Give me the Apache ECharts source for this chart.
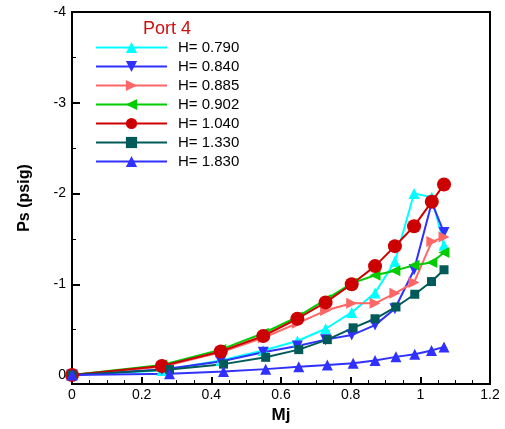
<!DOCTYPE html>
<html>
<head>
<meta charset="utf-8">
<script src="https://cdn.jsdelivr.net/npm/echarts@6/dist/echarts.min.js"></script>
<style>
html,body{margin:0;padding:0;background:#fff;}
#chart{width:505px;height:429px;}
</style>
</head>
<body>
<div id="chart"></div>
<script>
// Mach number values (x) for each run
const mjA = [0, 0.258, 0.427, 0.549, 0.647, 0.728, 0.803, 0.870, 0.927, 0.982, 1.033, 1.068];
const mjB = [0, 0.280, 0.435, 0.556, 0.651, 0.733, 0.807, 0.870, 0.930, 0.984, 1.032, 1.068];

// Ps (psig) values per H
const h0790 = [0, -0.05, -0.16, -0.27, -0.375, -0.51, -0.69, -0.905, -1.25, -2.00, -1.96, -1.43];
const h0840 = [0, -0.06, -0.15, -0.25, -0.32, -0.39, -0.44, -0.55, -0.73, -1.16, -1.90, -1.57];
const h0885 = [0, -0.09, -0.25, -0.41, -0.57, -0.71, -0.79, -0.79, -0.90, -1.02, -1.47, -1.52];
const h0902 = [0, -0.11, -0.28, -0.46, -0.64, -0.83, -1.01, -1.10, -1.15, -1.21, -1.24, -1.35];
const h1040 = [0, -0.10, -0.26, -0.43, -0.62, -0.80, -1.00, -1.20, -1.42, -1.64, -1.91, -2.10];
const h1330 = [0, -0.06, -0.12, -0.195, -0.28, -0.39, -0.52, -0.62, -0.75, -0.89, -1.03, -1.16];
const h1830 = [0, -0.015, -0.04, -0.065, -0.09, -0.11, -0.13, -0.16, -0.20, -0.23, -0.27, -0.31];

const legendNames = ['H= 0.790', 'H= 0.840', 'H= 0.885', 'H= 0.902', 'H= 1.040', 'H= 1.330', 'H= 1.830'];
const legendTitle = 'Port 4';
const xTitle = 'Mj';
const yTitle = 'Ps (psig)';

const pair = (xs, ys) => xs.map((x, i) => [x, ys[i]]);

const UP = 'triangle';
const DOWN = 'path://M0,0 L10,0 L5,10 Z';
const RIGHT = 'path://M0,0 L10,5 L0,10 Z';
const LEFT = 'path://M10,0 L10,10 L0,5 Z';

const specs = [
  {name: legendNames[0], xs: mjA, ys: h0790, color: '#00FFFF', symbol: UP, size: 11},
  {name: legendNames[1], xs: mjA, ys: h0840, color: '#3030FF', symbol: DOWN, size: 11},
  {name: legendNames[2], xs: mjA, ys: h0885, color: '#FF6666', symbol: RIGHT, size: 11},
  {name: legendNames[3], xs: mjA, ys: h0902, color: '#00CC00', symbol: LEFT, size: 11},
  {name: legendNames[4], xs: mjA, ys: h1040, color: '#CC0000', symbol: 'circle', size: 14},
  {name: legendNames[5], xs: mjB, ys: h1330, color: '#005A5A', symbol: 'rect', size: 9},
  {name: legendNames[6], xs: mjB, ys: h1830, color: '#3030FF', symbol: UP, size: 11}
];

const chart = echarts.init(document.getElementById('chart'));
const FONT = '"Liberation Sans", Arial, sans-serif';

chart.setOption({
  animation: false,
  backgroundColor: '#fff',
  title: {
    text: legendTitle,
    left: 143, top: 20, padding: 0,
    textStyle: {color: '#CC1111', fontSize: 18, fontWeight: 'normal', fontFamily: FONT}
  },
  legend: {
    orient: 'vertical',
    left: 95, top: 40, padding: 0,
    itemWidth: 71, itemHeight: 14, itemGap: 4,
    data: legendNames,
    textStyle: {fontSize: 15, color: '#000', fontFamily: FONT, padding: [0, 0, 0, 6]}
  },
  grid: {
    left: 72, right: 15, top: 12, bottom: 37,
    show: true, borderColor: '#000', borderWidth: 2, backgroundColor: 'transparent'
  },
  xAxis: {
    type: 'value', min: 0, max: 1.2, interval: 0.2,
    name: xTitle, nameLocation: 'middle', nameGap: 14,
    nameTextStyle: {fontSize: 17, fontWeight: 'bold', color: '#000', fontFamily: FONT},
    axisLine: {show: true, onZero: false, lineStyle: {color: '#000', width: 2}},
    axisTick: {show: true, inside: true, length: 7, lineStyle: {color: '#000', width: 2}},
    minorTick: {show: true, splitNumber: 4, length: 4, lineStyle: {color: '#000', width: 1}},
    axisLabel: {fontSize: 14, color: '#000', margin: 4, fontFamily: FONT},
    splitLine: {show: false}
  },
  yAxis: {
    type: 'value', min: -4, max: 0.1, interval: 1, inverse: true,
    name: yTitle, nameLocation: 'middle', nameGap: 39, nameRotate: 90,
    nameTextStyle: {fontSize: 16, fontWeight: 'bold', color: '#000', fontFamily: FONT},
    axisLine: {show: true, onZero: false, lineStyle: {color: '#000', width: 2}},
    axisTick: {show: true, inside: true, length: 8, lineStyle: {color: '#000', width: 2}},
    minorTick: {show: true, splitNumber: 2, length: 4, lineStyle: {color: '#000', width: 1}},
    axisLabel: {fontSize: 14, color: '#000', margin: 6, fontFamily: FONT, showMaxLabel: false},
    splitLine: {show: false}
  },
  series: specs.map(s => ({
    name: s.name,
    type: 'line',
    data: pair(s.xs, s.ys),
    symbol: s.symbol,
    symbolSize: s.size,
    showAllSymbol: true,
    lineStyle: {color: s.color, width: 2},
    itemStyle: {color: s.color, borderWidth: 0},
    color: s.color
  }))
});
</script>
</body>
</html>
